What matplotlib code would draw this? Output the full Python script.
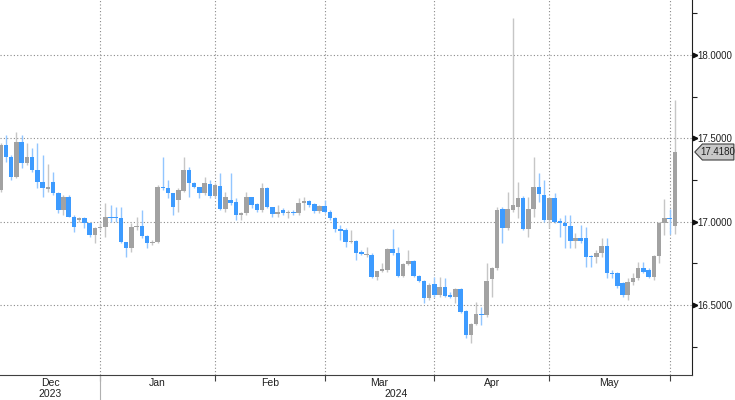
import numpy as np
import matplotlib.pyplot as plt
import matplotlib.transforms as mtransforms
from matplotlib.patches import Polygon
from matplotlib.ticker import FormatStrFormatter

# daily OHLC, Dec 2023 .. Jun 2024
opens = [17.19, 17.46, 17.39, 17.27, 17.48, 17.35, 17.39, 17.31, 17.24, 17.195,
         17.24, 17.17, 17.07, 17.15, 17.03, 17.01, 17.02, 16.99, 16.92, 16.96,
         16.97, 17.03, 17.025, 17.02, 16.88, 16.84, 16.965, 16.975, 16.915, 16.87,
         16.88, 17.21, 17.20, 17.17, 17.13, 17.185, 17.31, 17.23, 17.21, 17.17,
         17.225, 17.155, 17.215, 17.075, 17.13, 17.12, 17.04, 17.05, 17.15, 17.105,
         17.07, 17.20, 17.09, 17.045, 17.07, 17.05, 17.06, 17.05, 17.11, 17.125,
         17.105, 17.065, 17.095, 17.06, 17.02, 16.955, 16.95, 16.88, 16.885, 16.82,
         16.80, 16.80, 16.67, 16.705, 16.71, 16.835, 16.81, 16.675, 16.745, 16.765,
         16.675, 16.645, 16.54, 16.625, 16.56, 16.61, 16.56, 16.55, 16.595, 16.465,
         16.32, 16.385, 16.445, 16.44, 16.655, 16.72, 17.075, 16.96, 17.07, 17.09,
         17.14, 16.955, 17.075, 17.21, 17.16, 17.01, 17.14, 17.005, 16.99, 16.975,
         16.885, 16.90, 16.90, 16.79, 16.785, 16.81, 16.855, 16.692, 16.69, 16.63,
         16.56, 16.64, 16.66, 16.72, 16.71, 16.67, 16.795, 16.99, 17.022, 16.975]
highs = [17.47, 17.52, 17.40, 17.54, 17.52, 17.47, 17.44, 17.47, 17.40, 17.345,
         17.30, 17.18, 17.16, 17.16, 17.04, 17.03, 17.03, 17.00, 16.97, 16.99,
         17.11, 17.10, 17.09, 17.09, 16.88, 16.99, 17.03, 17.07, 16.92, 16.89,
         17.22, 17.39, 17.25, 17.17, 17.20, 17.39, 17.33, 17.24, 17.21, 17.27,
         17.25, 17.23, 17.29, 17.18, 17.29, 17.14, 17.06, 17.18, 17.15, 17.11,
         17.23, 17.21, 17.09, 17.10, 17.08, 17.07, 17.07, 17.14, 17.15, 17.13,
         17.11, 17.10, 17.13, 17.07, 17.03, 16.98, 16.96, 16.95, 16.89, 16.83,
         16.85, 16.81, 16.70, 16.75, 16.84, 16.955, 16.85, 16.75, 16.83, 16.77,
         16.68, 16.65, 16.63, 16.67, 16.67, 16.66, 16.58, 16.60, 16.60, 16.47,
         16.39, 16.52, 16.49, 16.75, 16.73, 17.09, 17.09, 17.18, 18.22, 17.24,
         17.155, 17.15, 17.39, 17.29, 17.25, 17.15, 17.17, 17.02, 17.04, 17.04,
         16.93, 16.98, 16.97, 16.80, 16.83, 16.90, 16.90, 16.71, 16.70, 16.64,
         16.66, 16.69, 16.76, 16.76, 16.72, 16.80, 16.995, 17.135, 17.075, 17.73]
lows = [17.18, 17.36, 17.25, 17.26, 17.32, 17.34, 17.30, 17.20, 17.15, 17.18,
        17.16, 17.05, 17.04, 17.03, 16.94, 17.00, 16.96, 16.91, 16.87, 16.95,
        16.91, 17.00, 17.00, 16.87, 16.79, 16.82, 16.95, 16.90, 16.84, 16.86,
        16.87, 17.19, 17.14, 17.04, 17.06, 17.18, 17.15, 17.20, 17.14, 17.16,
        17.14, 17.14, 17.07, 17.06, 17.10, 17.01, 17.01, 17.04, 17.08, 17.06,
        17.06, 17.08, 17.03, 17.03, 17.04, 17.02, 17.04, 17.04, 17.07, 17.09,
        17.05, 17.05, 17.05, 17.01, 16.94, 16.89, 16.85, 16.87, 16.77, 16.80,
        16.79, 16.66, 16.65, 16.70, 16.70, 16.80, 16.67, 16.67, 16.74, 16.67,
        16.64, 16.51, 16.53, 16.55, 16.55, 16.55, 16.54, 16.51, 16.45, 16.30,
        16.27, 16.38, 16.38, 16.43, 16.55, 16.71, 16.87, 16.95, 17.06, 17.02,
        16.95, 16.91, 17.03, 17.12, 17.00, 16.96, 16.99, 16.91, 16.84, 16.84,
        16.84, 16.87, 16.73, 16.73, 16.75, 16.79, 16.66, 16.66, 16.60, 16.55,
        16.53, 16.62, 16.65, 16.69, 16.66, 16.65, 16.75, 16.92, 16.925, 16.925]
closes = [17.46, 17.39, 17.27, 17.48, 17.35, 17.39, 17.31, 17.24, 17.20, 17.21,
          17.17, 17.07, 17.15, 17.03, 16.97, 17.02, 16.99, 16.92, 16.96, 16.97,
          17.03, 17.02, 17.02, 16.88, 16.84, 16.97, 16.975, 16.915, 16.87, 16.88,
          17.21, 17.20, 17.17, 17.09, 17.19, 17.31, 17.23, 17.21, 17.17, 17.23,
          17.155, 17.22, 17.075, 17.15, 17.11, 17.04, 17.05, 17.15, 17.10, 17.07,
          17.20, 17.09, 17.045, 17.06, 17.05, 17.06, 17.05, 17.11, 17.125, 17.10,
          17.065, 17.095, 17.06, 17.02, 16.955, 16.945, 16.88, 16.885, 16.81, 16.805,
          16.805, 16.67, 16.705, 16.715, 16.835, 16.81, 16.675, 16.745, 16.765, 16.675,
          16.645, 16.54, 16.62, 16.56, 16.61, 16.555, 16.55, 16.595, 16.46, 16.32,
          16.385, 16.445, 16.44, 16.645, 16.72, 17.07, 16.96, 17.075, 17.10, 17.14,
          16.955, 17.075, 17.21, 17.165, 17.01, 17.14, 17.00, 16.99, 16.975, 16.885,
          16.90, 16.885, 16.79, 16.785, 16.81, 16.855, 16.69, 16.688, 16.615, 16.56,
          16.64, 16.66, 16.72, 16.70, 16.67, 16.795, 16.99, 17.02, 17.016, 17.418]

month_starts = [19, 41, 62, 83, 105, 128]
month_labels = ["Dec", "Jan", "Feb", "Mar", "Apr", "May"]
year_labels = ["2023", "2024"]
last_price = 17.418

UP = "#a2a2a2"
DOWN = "#3d9bff"
UP_WICK = "#c6c6c6"
DOWN_WICK = "#92c6ff"
FONT = ["Liberation Sans", "DejaVu Sans"]

o = np.array(opens)
h = np.array(highs)
l = np.array(lows)
c = np.array(closes)
x = np.arange(len(o))
up = c >= o
dn = ~up

fig = plt.figure(figsize=(7.35, 4.0), dpi=100)
ax = fig.add_axes([0, 0.0625, 692 / 735, 0.9375])

ax.vlines(x[up], l[up], h[up], color=UP_WICK, lw=1, zorder=2)
ax.vlines(x[dn], l[dn], h[dn], color=DOWN_WICK, lw=1, zorder=2)
bottom = np.minimum(o, c)
height = np.maximum(np.abs(c - o), 0.006)
ax.bar(x[up], height[up], bottom=bottom[up], width=0.86, color=UP, lw=0, zorder=3)
ax.bar(x[dn], height[dn], bottom=bottom[dn], width=0.86, color=DOWN, lw=0, zorder=3)

ax.set_xlim(-0.15, 132.3)
ax.set_ylim(16.08, 18.33)

for s in ["top", "left"]:
    ax.spines[s].set_visible(False)
ax.spines["right"].set_color("#202020")
ax.spines["bottom"].set_color("#404040")

# y axis on the right
ax.yaxis.tick_right()
ax.set_yticks([16.5, 17.0, 17.5, 18.0])
ax.set_yticks([16.25, 16.75, 17.25, 17.75, 18.25], minor=True)
ax.yaxis.set_major_formatter(FormatStrFormatter("%.4f"))
ax.tick_params(axis="y", which="major", length=3.5, width=1, pad=0.5,
               labelsize=7, colors="#202020")
ax.tick_params(axis="y", which="minor", length=3.5, width=0.8, colors="#202020")
for lab in ax.get_yticklabels():
    lab.set_family(FONT)
ytr = mtransforms.blended_transform_factory(ax.transAxes, ax.transData)
ax.plot([1.005] * 4, [16.5, 17.0, 17.5, 18.0], ">", ms=3.2, color="#101010",
        transform=ytr, clip_on=False, zorder=5)

# x axis: month separators
ax.set_xticks(month_starts)
ax.set_xticklabels([])
ax.tick_params(axis="x", length=4, width=0.8, colors="#404040")
ax.grid(True, ls=(0, (1, 2)), color="#8a8a8a", lw=0.8)
ax.set_axisbelow(True)

xtr = mtransforms.blended_transform_factory(ax.transData, ax.transAxes)
edges = [-0.15] + month_starts
for i, lab in enumerate(month_labels):
    ax.text((edges[i] + edges[i + 1]) / 2, -0.022, lab, transform=xtr,
            ha="center", va="center", fontsize=7.5, family=FONT, color="#202020")
ax.text((edges[0] + edges[1]) / 2, -0.05, year_labels[0], transform=xtr,
        ha="center", va="center", fontsize=7.5, family=FONT, color="#202020")
ax.text((month_starts[0] + 132.3) / 2, -0.05, year_labels[1], transform=xtr,
        ha="center", va="center", fontsize=7.5, family=FONT, color="#202020")
ax.plot([month_starts[0]] * 2, [0, -0.07], color="#b0b0b0", lw=0.8,
        transform=xtr, clip_on=False)

# last price tag
hh = 0.048
tag = Polygon([(1.004, last_price), (1.015, last_price + hh), (1.0605, last_price + hh),
               (1.0605, last_price - hh), (1.015, last_price - hh)],
              closed=True, transform=ytr, clip_on=False,
              facecolor="#c8c8c8", edgecolor="#404040", lw=0.8, zorder=6)
ax.add_patch(tag)
ax.text(1.0375, last_price, f"{last_price:.4f}", transform=ytr, ha="center",
        va="center", fontsize=7, family=FONT, color="#202020", zorder=7)

fig.savefig("out.png", dpi=100)
